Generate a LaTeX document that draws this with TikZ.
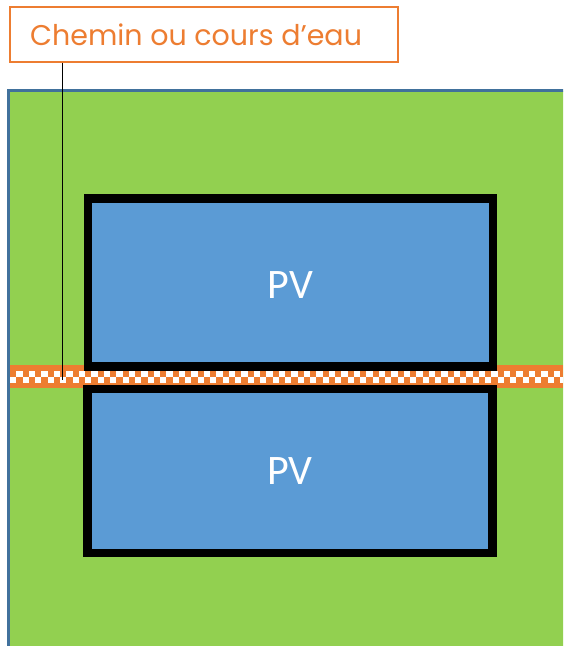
\documentclass[tikz,border=0pt]{standalone}
\usepackage{fontspec}
\setmainfont{Carlito}
\newfontfamily\gothic{Poppins}
\usepackage{xcolor}
\usetikzlibrary{positioning}
\definecolor{terrain}{HTML}{92D050}
\definecolor{terrainedge}{HTML}{41719C}
\definecolor{pvblue}{HTML}{5B9BD5}
\definecolor{chemin}{HTML}{ED7D31}

\begin{document}
\begin{tikzpicture}[x=1pt, y=-1pt,
    pvfield/.style={draw=black, line width=8.5pt, fill=pvblue, inner sep=0pt,
        text=white, font=\fontsize{42}{42}\selectfont},
    legendbox/.style={draw=chemin, line width=1.3pt, fill=white, inner sep=0pt}]
    \useasboundingbox (0,0) rectangle (563,646);
    \clip (0,0) rectangle (563,646);
    % terrain
    \filldraw[fill=terrain, draw=terrainedge, line width=2.5pt] (8.5,90.5) rectangle (580,660);
    % chemin (bande quadrillee)
    \fill[chemin] (10,365) rectangle (563,388);
    \foreach \i in {0,...,44}{
        \fill[white] ({10+12.5*\i},377) rectangle +(6.25,6);
        \fill[white] ({16.25+12.5*\i},371) rectangle +(6.25,6);
    }
    % panneaux
    \node[pvfield, minimum width=405pt, minimum height=168pt] (pv1) at (290.5,282.5) {\raisebox{-2.5pt}[\height][0pt]{PV}};
    \node[pvfield, minimum width=405pt, minimum height=164pt] (pv2) at (290,471) {PV};
    % legende
    \node[legendbox, minimum width=388pt, minimum height=55pt] (lbl) at (204,34.5) {};
    \node[text=chemin, font=\gothic\fontsize{28.5}{28.5}\selectfont, anchor=base west, inner sep=0pt] (lbltext) at (30,45.5) {Chemin ou cours d’eau};
    \coordinate (lblend) at (62.5,380);
    \draw[line width=1.2pt] (lbl.south -| lblend) -- (lblend);
\end{tikzpicture}
\end{document}
